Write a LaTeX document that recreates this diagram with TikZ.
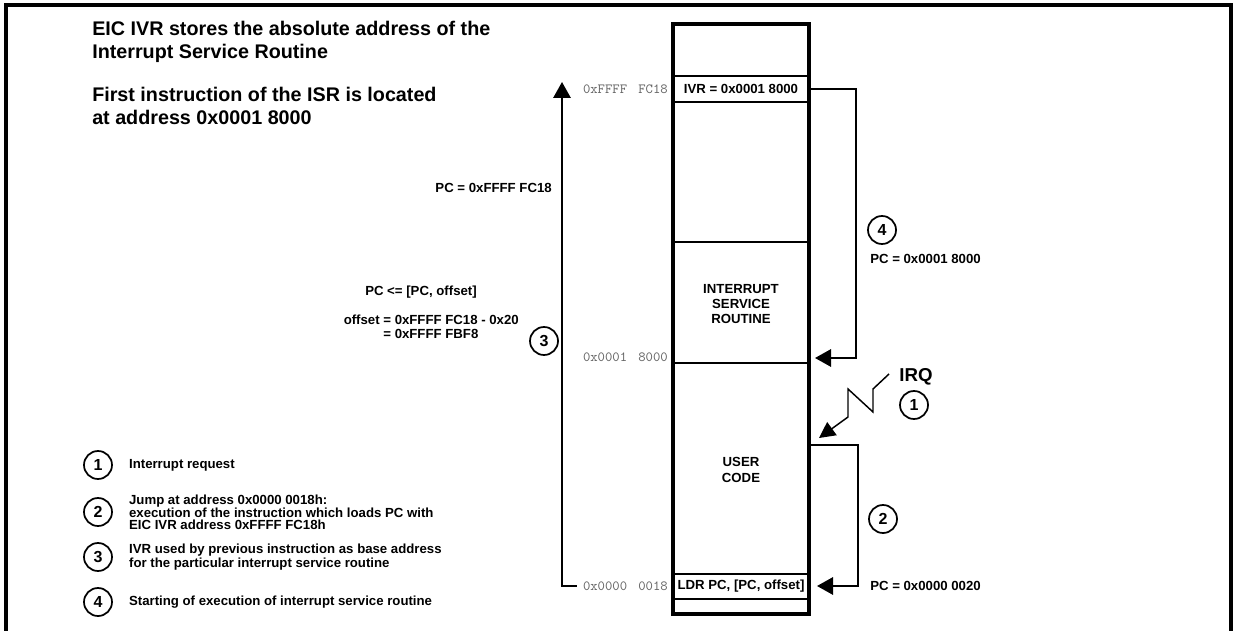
\documentclass[tikz,border=0pt]{standalone}
\usepackage{fontspec}
\setmainfont{Liberation Sans}
\usetikzlibrary{arrows.meta,positioning}

\newcommand{\gap}{\hspace{0.8em}}

\tikzset{
  lbl/.style={font=\fontsize{9.9pt}{11.6pt}\selectfont\bfseries,inner sep=0pt,align=center},
  addr/.style={font=\fontsize{10.5pt}{11pt}\ttfamily,text=black!60,inner sep=0pt,anchor=east},
  num/.style={circle,draw,line width=1.3pt,minimum size=21pt,inner sep=0pt,
    font=\fontsize{12pt}{12pt}\selectfont\bfseries},
  note/.style={font=\fontsize{9.9pt}{8.6pt}\selectfont\bfseries,inner sep=0pt,anchor=west,align=left},
  head/.style={font=\fontsize{14.8pt}{17pt}\selectfont\bfseries,inner sep=0pt,anchor=north west,align=left},
  flow/.style={line width=1.5pt,-{Triangle[length=12pt,width=13pt]}},
  cell/.style={draw,line width=1.5pt,minimum width=102pt,inner sep=0pt,
    font=\fontsize{9.9pt}{11.6pt}\selectfont\bfseries},
}

\begin{document}
\begin{tikzpicture}[x=0.75pt,y=-0.75pt,line join=miter]
\useasboundingbox (0,0) rectangle (1235,631);
% frame
\draw[line width=2.6pt] (6,631) -- (6,5) -- (1231,5) -- (1231,631);

% headings
\node[head] (head1) at (92,21) {EIC IVR stores the absolute address of the\\Interrupt Service Routine};
\node[head] (head2) at (92,87) {First instruction of the ISR is located\\at address 0x0001 8000};

% memory map
\node[cell,minimum height=19.5pt] (ivr) at (741,89) {IVR = 0x0001 8000};
\node[cell,minimum height=18.75pt] (ldr) at (741,586.5) {LDR PC, [PC, offset]};
\draw[line width=1.5pt] (673,242) -- (809,242);
\draw[line width=1.5pt] (673,363) -- (809,363);
\node[draw,line width=3pt,minimum width=102pt,minimum height=442.5pt,inner sep=0pt] (mem) at (741,319) {};
\node[lbl] (isr) at (741,304) {INTERRUPT\\SERVICE\\ROUTINE};
\node[lbl] (user) at (741,470) {USER\\CODE};

% addresses
\node[addr] (aivr) at (668,89) {0xFFFF\gap FC18};
\node[addr] (aisr) at (668,357) {0x0001\gap 8000};
\node[addr] (aldr) at (668,586) {0x0000\gap 0018};

% step 1: IRQ
\node[font=\fontsize{14pt}{14pt}\selectfont\bfseries,inner sep=0pt] (irq) at (916,377) {IRQ};
\node[num] (n1) at (914,405) {1};
\coordinate (irqtip) at (819,438);
\draw[line width=1.1pt,-{Triangle[length=12pt,width=12pt]}] (889,374) -- (873,389) -- (873,412)
  -- (848,389) -- (848,417) -- (irqtip);

% step 2: jump to 0x18
\coordinate (usertop) at (809,445);
\coordinate (tip2) at (817,586);
\draw[flow] (usertop) -- (858,445) -- (858,586) -- (tip2);
\node[num] (n2) at (883,519) {2};
\node[lbl,anchor=west] (pcldr) at (870,586) {PC = 0x0000 0020};

% step 3: load PC from IVR
\coordinate (tip3) at (562,82);
\draw[flow] ([xshift=-4.5pt]aldr.west) -| (tip3);
\node[num] (n3) at (544,341) {3};
\node[lbl,anchor=east] (pcivr) at (552,188) {PC = 0xFFFF FC18};
\node[lbl,anchor=east] (pcoff) at (477,292) {PC <= [PC, offset]};
\node[lbl,anchor=east] (offs) at (519,328.5) {\begin{tabular}{@{}r@{ }l@{}}offset &= 0xFFFF FC18 - 0x20\\[-1.6pt] &= 0xFFFF FBF8\end{tabular}};

% step 4: jump to ISR
\coordinate (tip4) at (815,358);
\draw[flow] (ivr.east) -- (856,89) -- (856,358) -- (tip4);
\node[num] (n4) at (882,230) {4};
\node[lbl,anchor=west] (pcisr) at (870,259) {PC = 0x0001 8000};

% legend
\node[num] (lg1) at (98,465) {1};
\node[num] (lg2) at (98,512) {2};
\node[num] (lg3) at (98,557) {3};
\node[num] (lg4) at (98,602) {4};
\node[note,right=12pt of lg1] (t1) {Interrupt request};
\node[note,right=12pt of lg2] (t2) {Jump at address 0x0000 0018h:\\execution of the instruction which loads PC with\\EIC IVR address 0xFFFF FC18h};
\node[note,right=12pt of lg3] (t3) {IVR used by previous instruction as base address\\for the particular interrupt service routine};
\node[note,right=12pt of lg4] (t4) {Starting of execution of interrupt service routine};
\end{tikzpicture}
\end{document}
